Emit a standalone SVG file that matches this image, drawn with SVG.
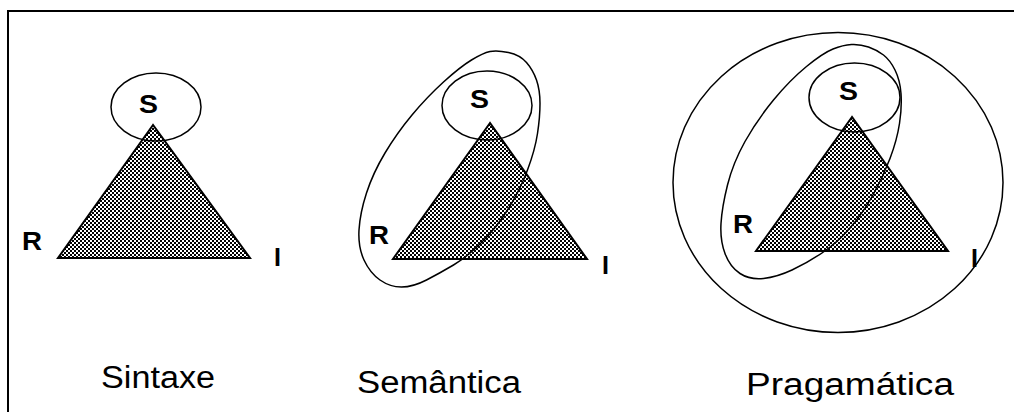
<svg xmlns="http://www.w3.org/2000/svg" width="1014" height="412" viewBox="0 0 1014 412">
<style>
.line{fill:none;stroke:#000;stroke-width:1.5}
.tri{fill:url(#checker);stroke:#000;stroke-width:2;stroke-linejoin:miter}
.lbl{font-family:"Liberation Sans",Arial,sans-serif;font-weight:bold;font-size:26px;fill:#000}
.cap{font-family:"Liberation Sans",Arial,sans-serif;font-size:31px;fill:#000}
</style>
<defs>
<pattern id="checker" width="4" height="4" patternUnits="userSpaceOnUse">
<rect width="4" height="4" fill="#fff"/>
<rect x="0" y="0" width="2" height="2" fill="#000"/>
<rect x="2" y="2" width="2" height="2" fill="#000"/>
</pattern>
</defs>
<rect width="1014" height="412" fill="#fff"/>
<path id="frame" d="M8,412 V11 H1014" fill="none" stroke="#000" stroke-width="2"/>

<g id="sintaxe">
<polygon class="tri" points="153,125 58,258 250,258"/>
<ellipse class="line" cx="156" cy="107" rx="45" ry="34"/>
<text class="lbl" x="139" y="113" textLength="19" lengthAdjust="spacingAndGlyphs">S</text>
<text class="lbl" x="22" y="250" textLength="20" lengthAdjust="spacingAndGlyphs">R</text>
<text class="lbl" x="274" y="266" textLength="7" lengthAdjust="spacingAndGlyphs">I</text>
<text class="cap" x="101" y="388" textLength="114" lengthAdjust="spacingAndGlyphs">Sintaxe</text>
</g>

<g id="semantica">
<polygon class="tri" points="490,123 393,259 587,259"/>
<ellipse class="line" cx="487" cy="105.5" rx="45" ry="34.5"/>
<path class="line" d="M508.5,52.5 Q520,55 526.5,62.5 Q533,70 536.5,80 Q540,90 540,103.5 Q540,117 537.5,133.5 Q535,150 527.5,170 Q520,190 508.5,208.5 Q497,227 482,242 Q467,257 453.5,265 Q440,273 426.5,280 Q413,287 401.5,287 Q390,287 380,280 Q370,273 364,260 Q358,247 359,230 Q360,213 366.5,193 Q373,173 385,153 Q397,133 412,115 Q427,97 443.5,82 Q460,67 471.5,60 Q483,53 490,51.5 Q497,50 508.5,52.5 Z"/>
<text class="lbl" x="470" y="108" textLength="19" lengthAdjust="spacingAndGlyphs">S</text>
<text class="lbl" x="369" y="244" textLength="20" lengthAdjust="spacingAndGlyphs">R</text>
<text class="lbl" x="602" y="274" textLength="7" lengthAdjust="spacingAndGlyphs">I</text>
<text class="cap" x="357" y="393" textLength="164" lengthAdjust="spacingAndGlyphs">Semântica</text>
</g>

<g id="pragamatica">
<ellipse class="line" cx="838" cy="182.5" rx="165" ry="150"/>
<polygon class="tri" points="852,117 756,251 948,251"/>
<ellipse class="line" cx="854.5" cy="97.5" rx="45.5" ry="34.5"/>
<path class="line" d="M868.5,47 Q877,50 883.5,55 Q890,60 895,70 Q900,80 901,93.5 Q902,107 899.5,123.5 Q897,140 890,158.5 Q883,177 873,195 Q863,213 850,228 Q837,243 822,253 Q807,263 792,270 Q777,277 763.5,278.5 Q750,280 740,273.5 Q730,267 725,253.5 Q720,240 721,223.5 Q722,207 727.5,185 Q733,163 745,141.5 Q757,120 773.5,100 Q790,80 806.5,66.5 Q823,53 833,49 Q843,45 851.5,44.5 Q860,44 868.5,47 Z"/>
<text class="lbl" x="839" y="100" textLength="19" lengthAdjust="spacingAndGlyphs">S</text>
<text class="lbl" x="733" y="233" textLength="20" lengthAdjust="spacingAndGlyphs">R</text>
<text class="lbl" x="971" y="267" textLength="7" lengthAdjust="spacingAndGlyphs">I</text>
<text class="cap" x="746" y="395" textLength="208" lengthAdjust="spacingAndGlyphs">Pragamática</text>
</g>
</svg>
